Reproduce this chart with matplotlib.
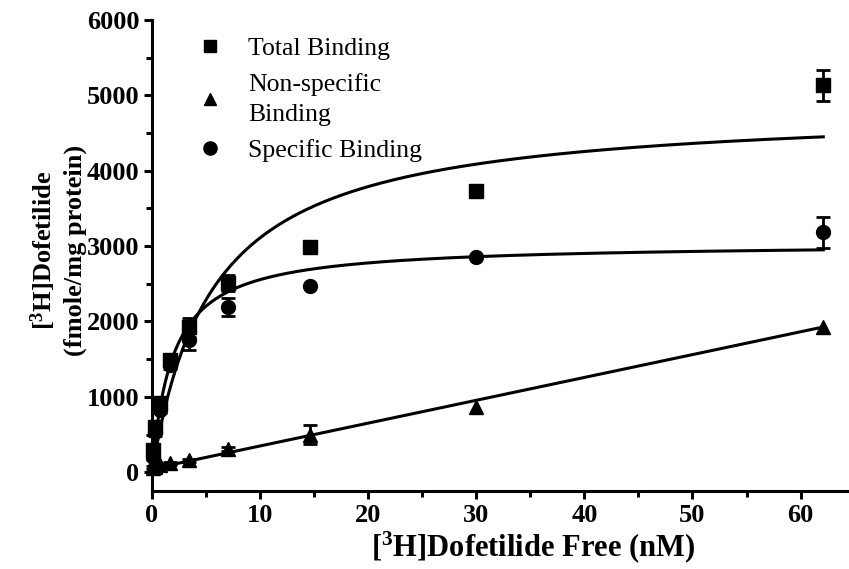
import matplotlib
matplotlib.use("Agg")
import matplotlib.pyplot as plt
from matplotlib.ticker import MultipleLocator
from matplotlib.lines import Line2D
import numpy as np

plt.rcParams['font.family'] = ['Liberation Serif', 'DejaVu Serif']
plt.rcParams['mathtext.fontset'] = 'custom'
plt.rcParams['mathtext.rm'] = 'Liberation Serif:bold'
plt.rcParams['mathtext.bf'] = 'Liberation Serif:bold'
plt.rcParams['mathtext.it'] = 'Liberation Serif:bold'

# free ligand concentration (nM)
free_nM = np.array([0.1, 0.3, 0.7, 1.7, 3.4, 7.0, 14.6, 30.0, 62.1])

# binding (fmole/mg protein) and SEM
total = np.array([290, 600, 920, 1490, 1920, 2510, 2990, 3730, 5130])
total_err = np.array([60, 60, 50, 60, 130, 110, 0, 0, 210])
nonspecific = np.array([60, 70, 90, 120, 160, 310, 500, 870, 1930])
nonspecific_err = np.array([20, 20, 20, 20, 20, 30, 130, 0, 0])
specific = np.array([200, 530, 830, 1420, 1760, 2190, 2470, 2855, 3180])
specific_err = np.array([40, 50, 50, 50, 140, 120, 0, 0, 210])

# fitted parameters
total_bmax, total_kd = 4850, 5.6
specific_bmax, specific_kd = 3040, 1.9
ns_slope, ns_intercept = 30.3, 45

fig = plt.figure(figsize=(8.49, 5.69), dpi=100)
ax = fig.add_axes([0.179, 0.137, 0.82, 0.828])

xfit = np.linspace(0, free_nM.max(), 400)
lw = 2.2
ax.plot(xfit, total_bmax * xfit / (total_kd + xfit), color='black', lw=lw)
ax.plot(xfit, specific_bmax * xfit / (specific_kd + xfit), color='black', lw=lw)
ax.plot(xfit, ns_slope * xfit + ns_intercept, color='black', lw=lw)

series = [(total, total_err, 's', 9.5), (nonspecific, nonspecific_err, '^', 10),
          (specific, specific_err, 'o', 10)]
for y, err, mk, ms in series:
    m = err > 0
    ax.errorbar(free_nM[m], y[m], yerr=err[m], fmt='none', ecolor='black',
                elinewidth=2, capsize=5, capthick=2, clip_on=False, zorder=3)
    ax.plot(free_nM, y, mk, color='black', ms=ms, clip_on=False, zorder=4)

ax.set_xlim(0, 64.4)
ax.set_ylim(-250, 6000)
ax.xaxis.set_major_locator(MultipleLocator(10))
ax.xaxis.set_minor_locator(MultipleLocator(5))
ax.yaxis.set_major_locator(MultipleLocator(1000))
ax.yaxis.set_minor_locator(MultipleLocator(500))
ax.spines['top'].set_visible(False)
ax.spines['right'].set_visible(False)
for s in ['left', 'bottom']:
    ax.spines[s].set_linewidth(2.2)
ax.tick_params(which='major', length=6, width=2.2, labelsize=19, pad=3)
ax.tick_params(which='minor', length=4, width=2.2)
for lab in ax.get_xticklabels() + ax.get_yticklabels():
    lab.set_fontweight('bold')

ax.set_xlabel('[$^{3}$H]Dofetilide Free (nM)', fontsize=22, fontweight='bold')
ax.xaxis.set_label_coords(0.548, -0.082)
ax.set_ylabel('[$^{3}$H]Dofetilide\n(fmole/mg protein)', fontsize=19,
              fontweight='bold', linespacing=1.3)
ax.yaxis.set_label_coords(-0.094, 0.51)

handles = [Line2D([], [], ls='none', marker='s', color='black', ms=8.5),
           Line2D([], [], ls='none', marker='^', color='black', ms=8.5),
           Line2D([], [], ls='none', marker='o', color='black', ms=9.5)]
labels = ['Total Binding', 'Non-specific\nBinding', 'Specific Binding']
leg = ax.legend(handles, labels, loc='upper left', bbox_to_anchor=(0.031, 1.012),
                frameon=False, fontsize=18.5, handlelength=1.0, handletextpad=1.0,
                labelspacing=0.5)
for t in leg.get_texts():
    t.set_linespacing(1.45)

fig.savefig('out.png', dpi=100)
